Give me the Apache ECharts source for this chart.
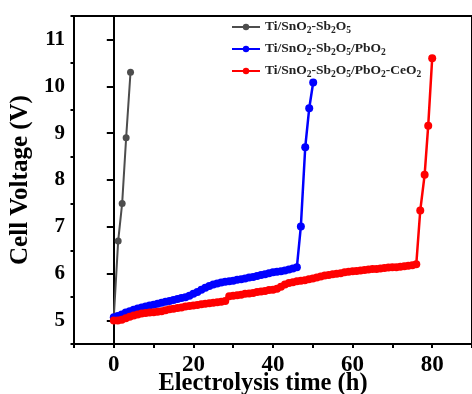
<!DOCTYPE html>
<html>
<head>
<meta charset="utf-8">
<script src="https://cdn.jsdelivr.net/npm/echarts@6/dist/echarts.min.js"></script>
<style>
html,body{margin:0;padding:0;background:#fff;}
#chart{width:472px;height:394px;}
</style>
</head>
<body>
<div id="chart"></div>
<script>
// Series names
const seriesNames = ['Ti/SnO2-Sb2O5', 'Ti/SnO2-Sb2O5/PbO2', 'Ti/SnO2-Sb2O5/PbO2-CeO2'];

// Ti/SnO2-Sb2O5 : time (h)
const grayTime = [0, 1.1, 2.1, 3.1, 4.2];
const grayVolt = [5.07, 6.7, 7.5, 8.9, 10.3];

// Ti/SnO2-Sb2O5/PbO2
const blueTime = [0,1,2,3,4,5,6,7,8,9,10,11,12,13,14,15,16,17,18,19,20,21,22,23,24,25,26,27,28,29,30,31,32,33,34,35,36,37,38,39,40,41,42,43,44,45,46,47,48.1,49.1,50.1];
const blueVolt = [5.07,5.10,5.13,5.17,5.20,5.23,5.26,5.28,5.30,5.32,5.34,5.36,5.38,5.40,5.42,5.44,5.46,5.48,5.50,5.53,5.57,5.61,5.66,5.70,5.74,5.77,5.79,5.81,5.83,5.84,5.85,5.87,5.88,5.90,5.92,5.93,5.95,5.97,5.99,6.01,6.03,6.04,6.05,6.07,6.09,6.11,6.14,7.01,8.70,9.53,10.08];

// Ti/SnO2-Sb2O5/PbO2-CeO2
const redTime = [0,1,2,3,4,5,6,7,8,9,10,11,12,13,14,15,16,17,18,19,20,21,22,23,24,25,26,27,28,29,30,31,32,33,34,35,36,37,38,39,40,41,42,43,44,45,46,47,48,49,50,51,52,53,54,55,56,57,58,59,60,61,62,63,64,65,66,67,68,69,70,71,72,73,74,75,76,77,78.1,79,80];
const redVolt = [5.00,5.00,5.02,5.05,5.08,5.11,5.13,5.15,5.16,5.17,5.18,5.19,5.20,5.22,5.24,5.25,5.27,5.28,5.30,5.31,5.32,5.33,5.35,5.36,5.37,5.38,5.39,5.40,5.42,5.52,5.53,5.54,5.55,5.57,5.58,5.59,5.61,5.62,5.63,5.65,5.66,5.68,5.72,5.77,5.80,5.82,5.84,5.85,5.86,5.88,5.90,5.92,5.94,5.96,5.97,5.99,6.00,6.01,6.03,6.04,6.05,6.06,6.07,6.08,6.09,6.10,6.10,6.11,6.12,6.13,6.14,6.14,6.15,6.16,6.17,6.18,6.20,7.35,8.11,9.16,10.6];

// Axis ticks / labels
const xTicks = [-10,0,10,20,30,40,50,60,70,80,90];
const xLabels = [0,20,40,60,80];
const yMajor = [5,6,7,8,9,10,11];
const yMinor = [4.5,5.5,6.5,7.5,8.5,9.5,10.5,11.5];

const xTitle = 'Electrolysis time (h)';
const yTitle = 'Cell Voltage (V)';

function zip(a, b) { return a.map((v, i) => [v, b[i]]); }

const serif = '"Liberation Serif","Times New Roman",serif';

function richName(name) {
  return name.replace(/(\d)/g, '}{s|$1}{n|').replace(/^/, '{n|') + '}';
}

const chart = echarts.init(document.getElementById('chart'));
chart.setOption({
  animation: false,
  backgroundColor: '#fff',
  grid: {
    left: 71, top: 16, right: -6, bottom: 50,
    show: true, borderColor: '#000', borderWidth: 2, backgroundColor: 'transparent'
  },
  legend: {
    orient: 'vertical',
    left: 226, top: 15,
    itemWidth: 28, itemHeight: 8, itemGap: 6,
    data: seriesNames,
    formatter: function (name) { return richName(name); },
    textStyle: {
      color: '#222',
      rich: {
        n: { fontFamily: serif, fontWeight: 'bold', fontSize: 13.5, lineHeight: 18, verticalAlign: 'middle', color: '#222' },
        s: { fontFamily: serif, fontWeight: 'bold', fontSize: 9.5, lineHeight: 9, verticalAlign: 'bottom', color: '#222' }
      }
    }
  },
  xAxis: {
    type: 'value', min: -10, max: 90, interval: 10,
    axisLine: { show: true, lineStyle: { color: '#000', width: 2 } },
    axisTick: { show: true, length: 4, customValues: xTicks, lineStyle: { color: '#000', width: 2 } },
    axisLabel: { customValues: xLabels, margin: 10, color: '#000', fontFamily: serif, fontWeight: 'bold', fontSize: 23 },
    splitLine: { show: false }
  },
  yAxis: [{
    type: 'value', min: 4.5, max: 11.5, interval: 0.5,
    name: yTitle, nameLocation: 'middle', nameGap: 41,
    nameTextStyle: { color: '#000', fontFamily: serif, fontWeight: 'bold', fontSize: 25 },
    axisLine: { show: true, lineStyle: { color: '#000', width: 2 } },
    axisTick: { show: true, length: 7, customValues: yMajor, lineStyle: { color: '#000', width: 2 } },
    axisLabel: { customValues: yMajor, margin: 9, color: '#000', fontFamily: serif, fontWeight: 'bold', fontSize: 21 },
    splitLine: { show: false }
  }, {
    type: 'value', min: 4.5, max: 11.5, interval: 0.5, position: 'left',
    axisLine: { show: false },
    axisTick: { show: true, length: 3.5, customValues: yMinor, lineStyle: { color: '#000', width: 2 } },
    axisLabel: { show: false },
    splitLine: { show: false }
  }],
  graphic: [{
    type: 'text',
    style: {
      text: xTitle, x: 263, y: 384, textAlign: 'center', textVerticalAlign: 'middle',
      font: 'bold 24.5px ' + serif, fill: '#000'
    }
  }],
  series: [{
    name: seriesNames[0], type: 'line', data: zip(grayTime, grayVolt),
    symbol: 'circle', symbolSize: 7, itemStyle: { color: '#4d4d4d' },
    lineStyle: { color: '#4d4d4d', width: 2 }
  }, {
    name: seriesNames[1], type: 'line', data: zip(blueTime, blueVolt),
    symbol: 'circle', symbolSize: 8, itemStyle: { color: '#0000ff' },
    lineStyle: { color: '#0000ff', width: 2.5 }
  }, {
    name: seriesNames[2], type: 'line', data: zip(redTime, redVolt),
    symbol: 'circle', symbolSize: 8, itemStyle: { color: '#ff0000' },
    lineStyle: { color: '#ff0000', width: 2.5 }
  }]
});
</script>
</body>
</html>
